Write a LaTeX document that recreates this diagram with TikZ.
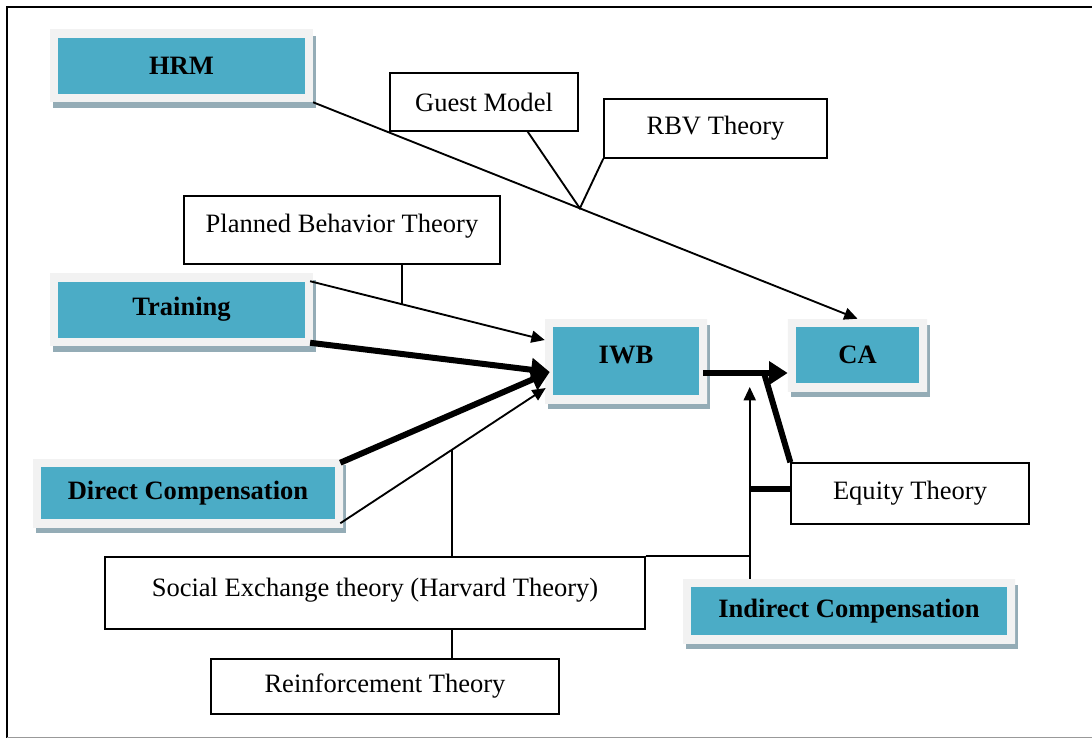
\documentclass[tikz,border=0pt]{standalone}
\usepackage{fontspec}
\setmainfont{Liberation Serif}
\usetikzlibrary{arrows.meta,positioning,calc,shadows}
\definecolor{boxteal}{RGB}{75,172,198}
\definecolor{boxframe}{RGB}{242,242,242}
\definecolor{boxshadow}{RGB}{148,172,182}
\tikzset{
  varbox/.style={fill=boxteal, inner sep=0pt, font=\fontsize{19.9}{24}\selectfont\bfseries,
    drop shadow={shadow xshift=2.25pt, shadow yshift=-4.5pt, fill=boxshadow, opacity=1},
    path picture={\draw[boxframe, line width=12pt] (path picture bounding box.south west) rectangle (path picture bounding box.north east);}},
  theorybox/.style={draw, line width=1pt, fill=white, inner sep=0pt, font=\fontsize{19.9}{24}\selectfont},
  thinarrow/.style={line width=1.4pt, -{Triangle[length=10pt,width=9pt]}},
  thickarrow/.style={line width=4.5pt, -{Triangle[length=14pt,width=17pt]}},
  thinline/.style={line width=1.4pt},
  thickline/.style={line width=4.5pt}
}
\begin{document}
\begin{tikzpicture}[x=0.75pt,y=0.75pt,yscale=-1,xscale=1]
    \useasboundingbox (0,0) rectangle (1092,738);

    %Frame
    \draw[line width=1.5pt] (7,745) -- (7,7) -- (1100,7);
    \draw[line width=1pt, black!40] (7,737.5) -- (1100,737.5);

    %Variables
    \node[varbox, minimum width=197pt, minimum height=54pt] (hrm) at (181.5,66) {HRM};
    \node[varbox, minimum width=197pt, minimum height=54pt] (train) at (181.5,309.5) {Training};
    \node[varbox, minimum width=232.5pt, minimum height=51pt] (direct) at (188,493) {Direct Compensation};
    \node[varbox, minimum width=121.5pt, minimum height=63pt, text depth=9pt] (iwb) at (626,361) {IWB};
    \node[varbox, minimum width=104.3pt, minimum height=54pt] (ca) at (857.5,355) {CA};
    \node[varbox, minimum width=249pt, minimum height=48pt] (indirect) at (849,611) {Indirect Compensation};

    %Theories
    \node[theorybox, minimum width=141pt, minimum height=43.5pt] (guest) at (484,102) {Guest Model};
    \node[theorybox, minimum width=167.3pt, minimum height=44.3pt] (rbv) at (715.5,128.5) {RBV Theory};
    \node[theorybox, minimum width=237pt, minimum height=51pt, text depth=10pt] (planned) at (342,230) {Planned Behavior Theory};
    \node[theorybox, minimum width=178.5pt, minimum height=45.8pt] (equity) at (910,493.5) {Equity Theory};
    \node[theorybox, minimum width=405pt, minimum height=54pt, text depth=8pt] (social) at (375,593) {Social Exchange theory (Harvard Theory)};
    \node[theorybox, minimum width=261pt, minimum height=41.3pt] (reinf) at (385,686.5) {Reinforcement Theory};

    %HRM to CA
    \draw[thinarrow] (hrm.south east) -- coordinate[pos=0.49] (gm) (ca.north);
    \draw[thinline] ($(guest.south east)+(-51,0)$) -- (gm) -- (rbv.south west);

    %Training to IWB
    \draw[thinarrow] ($(train.north east)+(-3,8)$) -- coordinate[pos=0.39] (pb) ($(iwb.west)+(0,-21)$);
    \draw[thinline] (pb) -- (pb |- planned.south);
    \draw[thickarrow] ($(train.south east)+(-3,-3)$) -- ($(iwb.west)+(5,11)$);

    %Direct Compensation to IWB
    \draw[thickarrow] ($(direct.north east)+(-3,4)$) -- ($(iwb.west)+(5,11)$);
    \draw[thinarrow] ($(direct.south east)+(-3,-4)$) -- coordinate[pos=0.544] (se) ($(iwb.west)+(1,27)$);
    \draw[thinline] (se) -- (se |- social.north);
    \draw[thinline] (social.south -| se) -- (reinf.north -| se);

    %IWB to CA
    \coordinate (iwbout) at ($(iwb.east)+(-4,12)$);
    \draw[thickarrow] (iwbout) -- coordinate[pos=0.72] (eq) (iwbout -| ca.west);
    \draw[thickline] (equity.north west) -- (eq);

    %Indirect Compensation
    \coordinate (up) at ($(indirect.north west)+(67,0)$);
    \coordinate (eqw) at ($(equity.west)+(0,-5)$);
    \draw[thinarrow] (up) -- ($(iwbout -| up)+(0,14)$);
    \draw[thickline] (eqw) -- (eqw -| up);
    \draw[thinline] (social.north east) -- (social.north east -| up);

\end{tikzpicture}
\end{document}
